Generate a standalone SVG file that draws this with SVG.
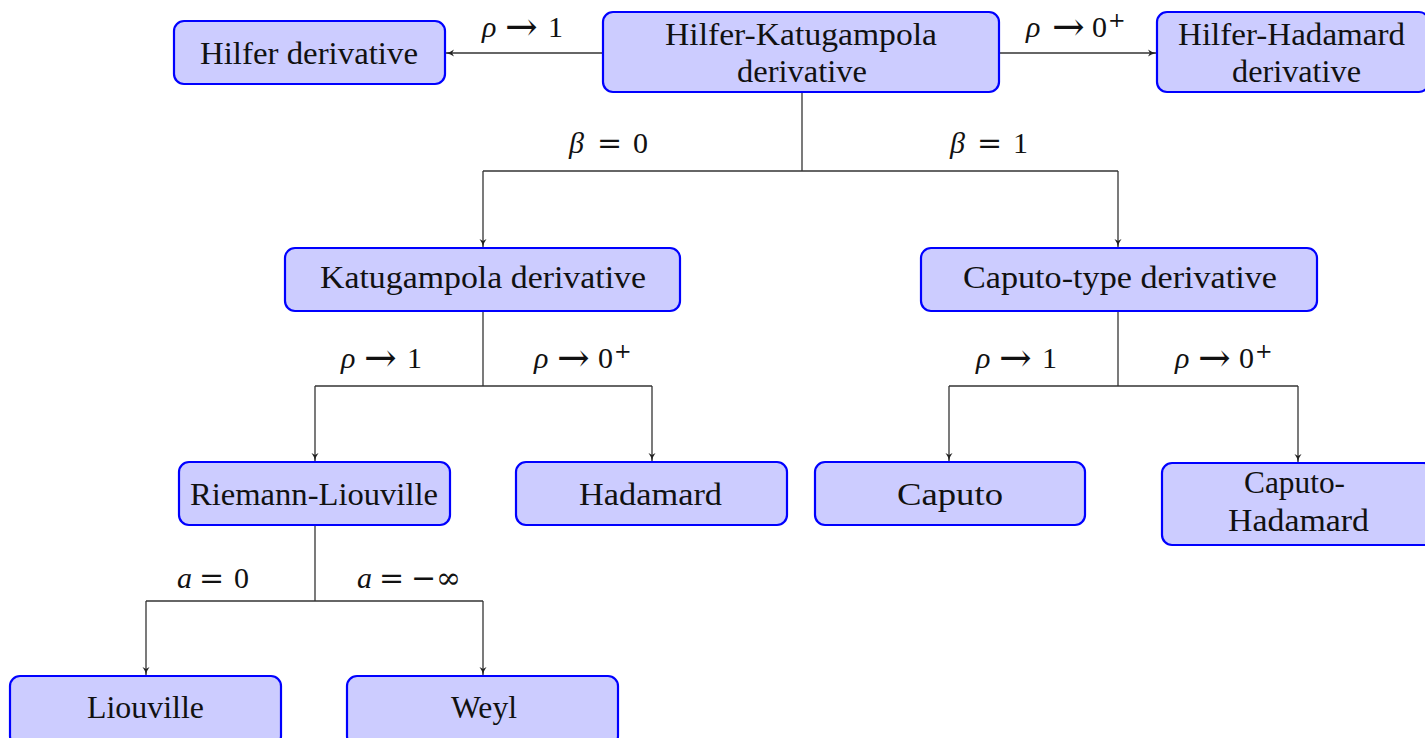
<svg xmlns="http://www.w3.org/2000/svg" width="1425" height="738" viewBox="0 0 1425 738">
<defs>
<marker id="arr" markerWidth="10" markerHeight="8" refX="8" refY="4" orient="auto" markerUnits="userSpaceOnUse">
<path d="M0,0.5 Q3,3 8,4 Q3,5 0,7.5 L2,4 Z" fill="#222"/>
</marker>
<style>
.box{fill:#ccccff;stroke:#0000ff;stroke-width:2.2}
.t{font-family:"Liberation Serif","DejaVu Serif",serif;font-size:31px;fill:#111;text-anchor:middle}
.m{font-family:"Liberation Serif","DejaVu Serif",serif;font-size:30px;fill:#111}
.o{font-family:"DejaVu Serif","Liberation Serif",serif;font-size:30px}
.a{font-family:"DejaVu Serif","Liberation Serif",serif;font-size:39px}
.s{font-family:"DejaVu Serif","Liberation Serif",serif;font-size:21px}
.c{fill:none;stroke:#333;stroke-width:1.3}
.i{font-style:italic}
</style>
</defs>
<rect width="1425" height="738" fill="#ffffff"/>
<g id="connectors">
<path class="c" d="M603,53 H446" marker-end="url(#arr)"/>
<path class="c" d="M999,53 H1156" marker-end="url(#arr)"/>
<path class="c" d="M802,92 V171"/>
<path class="c" d="M483,171 H1118"/>
<path class="c" d="M483,171 V247" marker-end="url(#arr)"/>
<path class="c" d="M1118,171 V247" marker-end="url(#arr)"/>
<path class="c" d="M483,311 V386"/>
<path class="c" d="M315,386 H652"/>
<path class="c" d="M315,386 V461" marker-end="url(#arr)"/>
<path class="c" d="M652,386 V461" marker-end="url(#arr)"/>
<path class="c" d="M1118,311 V386"/>
<path class="c" d="M949,386 H1298"/>
<path class="c" d="M949,386 V461" marker-end="url(#arr)"/>
<path class="c" d="M1298,386 V462" marker-end="url(#arr)"/>
<path class="c" d="M315,525 V601"/>
<path class="c" d="M146,601 H483"/>
<path class="c" d="M146,601 V675" marker-end="url(#arr)"/>
<path class="c" d="M483,601 V675" marker-end="url(#arr)"/>
</g>
<g id="labels">
<text class="m" y="37"><tspan class="i" x="482">ρ</tspan><tspan class="a" x="505" y="40">→</tspan><tspan x="548" y="37">1</tspan></text>
<text class="m" y="37"><tspan class="i" x="1026">ρ</tspan><tspan class="a" x="1052" y="40">→</tspan><tspan x="1092" y="37">0</tspan><tspan class="s" x="1108" y="27">+</tspan></text>
<text class="m" y="153"><tspan class="i" x="569">β</tspan><tspan class="o" x="597">=</tspan><tspan x="633">0</tspan></text>
<text class="m" y="153"><tspan class="i" x="950">β</tspan><tspan class="o" x="977">=</tspan><tspan x="1013">1</tspan></text>
<text class="m" y="368"><tspan class="i" x="341">ρ</tspan><tspan class="a" x="364" y="371">→</tspan><tspan x="407" y="368">1</tspan></text>
<text class="m" y="368"><tspan class="i" x="534">ρ</tspan><tspan class="a" x="557" y="371">→</tspan><tspan x="598" y="368">0</tspan><tspan class="s" x="614" y="358">+</tspan></text>
<text class="m" y="368"><tspan class="i" x="976">ρ</tspan><tspan class="a" x="999" y="371">→</tspan><tspan x="1042" y="368">1</tspan></text>
<text class="m" y="368"><tspan class="i" x="1175">ρ</tspan><tspan class="a" x="1198" y="371">→</tspan><tspan x="1239" y="368">0</tspan><tspan class="s" x="1255" y="358">+</tspan></text>
<text class="m" y="588"><tspan class="i" x="177">a</tspan><tspan class="o" x="199">=</tspan><tspan x="234">0</tspan></text>
<text class="m" y="588"><tspan class="i" x="357">a</tspan><tspan class="o" x="379">=</tspan><tspan class="o" x="411">−</tspan><tspan class="o" x="436">∞</tspan></text>
</g>
<g id="n-hilfer"><rect class="box" x="174" y="21" width="271" height="63" rx="10"/><text class="t" x="309" y="64" textLength="218" lengthAdjust="spacingAndGlyphs">Hilfer derivative</text></g>
<g id="n-hk"><rect class="box" x="603" y="12" width="396" height="80" rx="10"/><text class="t" x="801" y="45" textLength="272" lengthAdjust="spacingAndGlyphs">Hilfer-Katugampola</text><text class="t" x="802" y="82" textLength="130" lengthAdjust="spacingAndGlyphs">derivative</text></g>
<g id="n-hh"><rect class="box" x="1157" y="12" width="272" height="80" rx="10"/><text class="t" x="1291.5" y="45" textLength="227" lengthAdjust="spacingAndGlyphs">Hilfer-Hadamard</text><text class="t" x="1296.5" y="82" textLength="129" lengthAdjust="spacingAndGlyphs">derivative</text></g>
<g id="n-kat"><rect class="box" x="285" y="248" width="395" height="63" rx="10"/><text class="t" x="483" y="288" textLength="326" lengthAdjust="spacingAndGlyphs">Katugampola derivative</text></g>
<g id="n-ct"><rect class="box" x="921" y="248" width="396" height="63" rx="10"/><text class="t" x="1120" y="288" textLength="314" lengthAdjust="spacingAndGlyphs">Caputo-type derivative</text></g>
<g id="n-rl"><rect class="box" x="179" y="462" width="271" height="63" rx="10"/><text class="t" x="314" y="505" textLength="248" lengthAdjust="spacingAndGlyphs">Riemann-Liouville</text></g>
<g id="n-had"><rect class="box" x="516" y="462" width="271" height="63" rx="10"/><text class="t" x="650.5" y="505" textLength="143" lengthAdjust="spacingAndGlyphs">Hadamard</text></g>
<g id="n-cap"><rect class="box" x="815" y="462" width="270" height="63" rx="10"/><text class="t" x="950" y="505" textLength="106" lengthAdjust="spacingAndGlyphs">Caputo</text></g>
<g id="n-ch"><rect class="box" x="1162" y="463" width="272" height="82" rx="10"/><text class="t" x="1294.5" y="493" textLength="101" lengthAdjust="spacingAndGlyphs">Caputo-</text><text class="t" x="1298.5" y="531" textLength="141" lengthAdjust="spacingAndGlyphs">Hadamard</text></g>
<g id="n-liou"><rect class="box" x="10" y="676" width="271" height="70" rx="10"/><text class="t" x="145.5" y="718" textLength="117" lengthAdjust="spacingAndGlyphs">Liouville</text></g>
<g id="n-weyl"><rect class="box" x="347" y="676" width="271" height="70" rx="10"/><text class="t" x="484" y="718" textLength="66" lengthAdjust="spacingAndGlyphs">Weyl</text></g>
</svg>
